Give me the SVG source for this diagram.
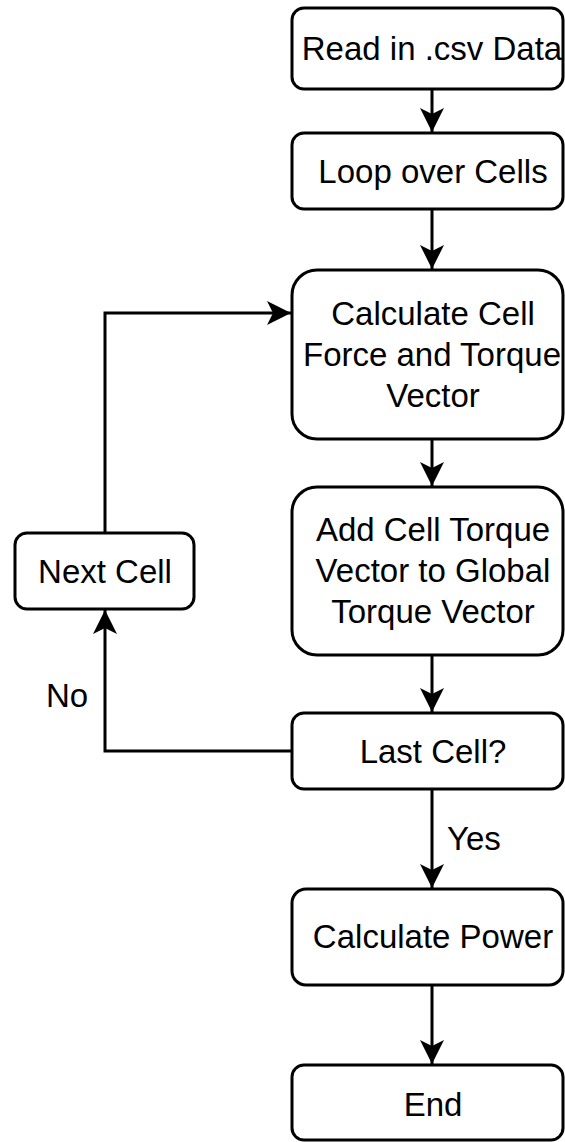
<svg xmlns="http://www.w3.org/2000/svg" width="565" height="1142" viewBox="0 0 565 1142">
  <style>
    .box { fill: #ffffff; stroke: #000000; stroke-width: 3; }
    .edge { fill: none; stroke: #000000; stroke-width: 3; }
    .lbl { font-family: "Liberation Sans", Arial, sans-serif; font-size: 33px; fill: #000000; text-anchor: middle; }
    .elbl { font-family: "Liberation Sans", Arial, sans-serif; font-size: 33px; fill: #000000; }
  </style>
  <defs>
    <marker id="arrow" markerUnits="userSpaceOnUse" markerWidth="26" markerHeight="26" viewBox="-25 -13 26 26" refX="0" refY="0" orient="auto">
      <path d="M0,0 L-24,-12 L-18,0 L-24,12 Z" fill="#000000"/>
    </marker>
  </defs>
  <rect width="565" height="1142" fill="#ffffff"/>

  <!-- connectors -->
  <g id="edges">
    <path class="edge" d="M432,89 V132" marker-end="url(#arrow)"/>
    <path class="edge" d="M432,209 V269" marker-end="url(#arrow)"/>
    <path class="edge" d="M432,439 V486" marker-end="url(#arrow)"/>
    <path class="edge" d="M432,655 V712" marker-end="url(#arrow)"/>
    <path class="edge" d="M292,751 H105 V610" marker-end="url(#arrow)"/>
    <path class="edge" d="M105,533 V313 H291" marker-end="url(#arrow)"/>
    <path class="edge" d="M432,789 V888" marker-end="url(#arrow)"/>
    <path class="edge" d="M432,985 V1064" marker-end="url(#arrow)"/>
    <text class="elbl" x="67" y="707" text-anchor="middle">No</text>
    <text class="elbl" x="447" y="850">Yes</text>
  </g>

  <g id="read-data">
    <rect class="box" x="292" y="8" width="271" height="81" rx="12"/>
    <text class="lbl" x="432" y="60">Read in .csv Data</text>
  </g>
  <g id="loop-cells">
    <rect class="box" x="292" y="133" width="271" height="76" rx="12"/>
    <text class="lbl" x="433" y="183">Loop over Cells</text>
  </g>
  <g id="calc-force">
    <rect class="box" x="292" y="270" width="271" height="169" rx="25"/>
    <text class="lbl" x="433" y="325">Calculate Cell</text>
    <text class="lbl" x="432" y="366">Force and Torque</text>
    <text class="lbl" x="433" y="407">Vector</text>
  </g>
  <g id="add-torque">
    <rect class="box" x="292" y="487" width="271" height="168" rx="25"/>
    <text class="lbl" x="433" y="541">Add Cell Torque</text>
    <text class="lbl" x="433" y="582">Vector to Global</text>
    <text class="lbl" x="433" y="623">Torque Vector</text>
  </g>
  <g id="last-cell">
    <rect class="box" x="292" y="713" width="271" height="76" rx="12"/>
    <text class="lbl" x="433" y="763">Last Cell?</text>
  </g>
  <g id="next-cell">
    <rect class="box" x="15" y="533" width="179" height="76" rx="12"/>
    <text class="lbl" x="105" y="583">Next Cell</text>
  </g>
  <g id="calc-power">
    <rect class="box" x="292" y="889" width="271" height="96" rx="14"/>
    <text class="lbl" x="433" y="948">Calculate Power</text>
  </g>
  <g id="end">
    <rect class="box" x="292" y="1065" width="271" height="75" rx="12"/>
    <text class="lbl" x="433" y="1116">End</text>
  </g>
</svg>
